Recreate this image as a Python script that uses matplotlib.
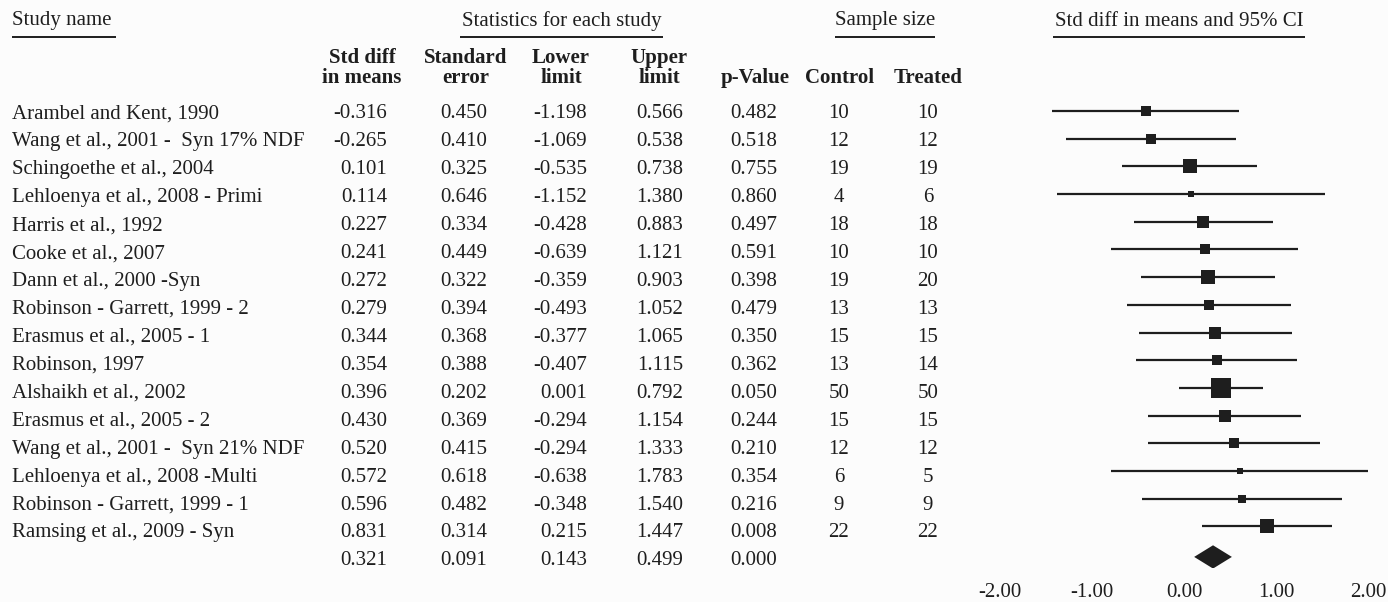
import matplotlib
matplotlib.use("Agg")
import matplotlib.pyplot as plt

plt.rcParams['font.family'] = ['Liberation Serif', 'DejaVu Serif']

studies = ["Arambel and Kent, 1990", "Wang et al., 2001 -  Syn 17% NDF",
           "Schingoethe et al., 2004", "Lehloenya et al., 2008 - Primi",
           "Harris et al., 1992", "Cooke et al., 2007", "Dann et al., 2000 -Syn",
           "Robinson - Garrett, 1999 - 2", "Erasmus et al., 2005 - 1",
           "Robinson, 1997", "Alshaikh et al., 2002", "Erasmus et al., 2005 - 2",
           "Wang et al., 2001 -  Syn 21% NDF", "Lehloenya et al., 2008 -Multi",
           "Robinson - Garrett, 1999 - 1", "Ramsing et al., 2009 - Syn"]
smd = [-0.316, -0.265, 0.101, 0.114, 0.227, 0.241, 0.272, 0.279,
       0.344, 0.354, 0.396, 0.430, 0.520, 0.572, 0.596, 0.831]
se = [0.450, 0.410, 0.325, 0.646, 0.334, 0.449, 0.322, 0.394,
      0.368, 0.388, 0.202, 0.369, 0.415, 0.618, 0.482, 0.314]
lower = [-1.198, -1.069, -0.535, -1.152, -0.428, -0.639, -0.359, -0.493,
         -0.377, -0.407, 0.001, -0.294, -0.294, -0.638, -0.348, 0.215]
upper = [0.566, 0.538, 0.738, 1.380, 0.883, 1.121, 0.903, 1.052,
         1.065, 1.115, 0.792, 1.154, 1.333, 1.783, 1.540, 1.447]
pval = [0.482, 0.518, 0.755, 0.860, 0.497, 0.591, 0.398, 0.479,
        0.350, 0.362, 0.050, 0.244, 0.210, 0.354, 0.216, 0.008]
control = [10, 12, 19, 4, 18, 10, 19, 13, 15, 13, 50, 15, 12, 6, 9, 22]
treated = [10, 12, 19, 6, 18, 10, 20, 13, 15, 14, 50, 15, 12, 5, 9, 22]

# pooled estimate
pooled_smd, pooled_se, pooled_lo, pooled_hi, pooled_p = 0.321, 0.091, 0.143, 0.499, 0.000

axis_ticks = [-2.0, -1.0, 0.0, 1.0, 2.0]

W, H = 1388, 602
ink = "#1e1e1e"
fs = 15

fig = plt.figure(figsize=(W / 100, H / 100), dpi=100, facecolor="#fcfcfc")

# table layer in pixel units
tab = fig.add_axes([0, 0, 1, 1])
tab.set_xlim(0, W)
tab.set_ylim(H, 0)
tab.axis("off")

# group titles with underlines
groups = [("Study name", 12, 116, "left"),
          ("Statistics for each study", 460, 663, "center"),
          ("Sample size", 835, 935, "center"),
          ("Std diff in means and 95% CI", 1053, 1305, "center")]
for label, x0, x1, ha in groups:
    tx = x0 if ha == "left" else (x0 + x1) / 2
    tab.text(tx, 21, label, ha=ha, va="center", fontsize=fs, color=ink)
    tab.plot([x0, x1], [37, 37], color=ink, lw=1.4, solid_capstyle="butt")

# column headers
col_heads = [("Std diff\nin means", 362), ("Standard\nerror", 466),
             ("Lower\nlimit", 561), ("Upper\nlimit", 659)]
for label, cx in col_heads:
    tab.text(cx, 68, label, ha="center", va="center", fontsize=fs,
             fontweight="bold", color=ink, linespacing=0.95)
for label, cx in [("p-Value", 755), ("Control", 840), ("Treated", 928)]:
    tab.text(cx, 78, label, ha="center", va="center", fontsize=fs,
             fontweight="bold", color=ink)

# study rows
row0, step = 114, 27.93
num_cols = [(smd, 387), (se, 487), (lower, 587), (upper, 683), (pval, 777)]
for i, name in enumerate(studies):
    y = row0 + step * i
    tab.text(12, y, name, ha="left", va="center", fontsize=fs, color=ink)
    for vals, rx in num_cols:
        tab.text(rx, y, f"{vals[i]:.3f}", ha="right", va="center",
                 fontsize=fs, color=ink)
    tab.text(839, y, str(control[i]), ha="center", va="center", fontsize=fs, color=ink)
    tab.text(928, y, str(treated[i]), ha="center", va="center", fontsize=fs, color=ink)

y = row0 + step * len(studies)
for v, rx in zip([pooled_smd, pooled_se, pooled_lo, pooled_hi, pooled_p],
                 [387, 487, 587, 683, 777]):
    tab.text(rx, y, f"{v:.3f}", ha="right", va="center", fontsize=fs, color=ink)

# forest plot
fx0, fx1 = 960, W
zero_px, unit_px = 1179, 106
fy0, fy1 = 97, 568
ax = fig.add_axes([fx0 / W, 1 - fy1 / H, (fx1 - fx0) / W, (fy1 - fy0) / H])
ax.set_xlim((fx0 - zero_px) / unit_px, (fx1 - zero_px) / unit_px)
ax.set_ylim(len(studies) + 0.5, -0.5)
ax.axis("off")

for i in range(len(studies)):
    ax.plot([lower[i], upper[i]], [i, i], color=ink, lw=1.6, solid_capstyle="butt")
    side = 4.24 / se[i] * 0.72
    ax.plot(smd[i], i, marker="s", ms=side, color=ink, mec=ink, mew=0)

k = len(studies)
h = 0.42
ax.fill([pooled_lo, pooled_smd, pooled_hi, pooled_smd],
        [k + 0.1, k + 0.1 - h, k + 0.1, k + 0.1 + h], color=ink, lw=0)

# scale labels under the forest plot
sc = fig.add_axes([1000 / W, 1 - 582 / H, 368 / W, 0.0001])
sc.set_xlim(axis_ticks[0], axis_ticks[-1])
sc.set_xticks(axis_ticks)
sc.set_xticklabels([f"{t:.2f}" for t in axis_ticks], fontsize=fs, color=ink)
sc.tick_params(axis="x", length=0, pad=1)
sc.set_yticks([])
for s in sc.spines.values():
    s.set_visible(False)
sc.patch.set_alpha(0)

fig.savefig("out.png", dpi=100, facecolor=fig.get_facecolor())
